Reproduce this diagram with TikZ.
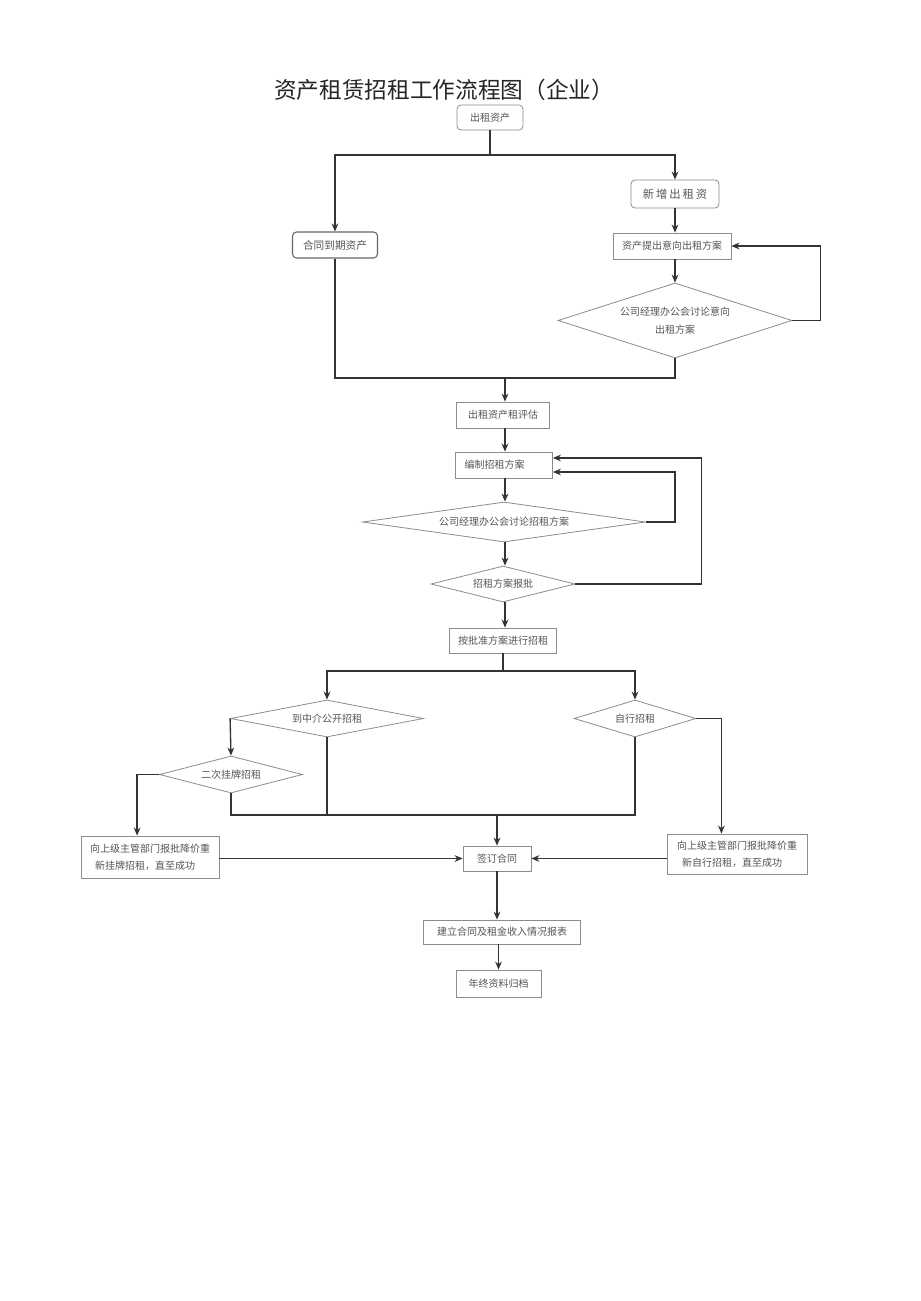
\documentclass[tikz,border=0pt]{standalone}
\usepackage{fontspec}
\setmainfont{Noto Sans CJK SC}
\newfontfamily\cjk{Noto Sans CJK SC}
\usetikzlibrary{shapes.geometric,arrows.meta,calc}
\definecolor{bordergray}{HTML}{8C8C8C}
\definecolor{textgray}{HTML}{555555}
\definecolor{linegray}{HTML}{333333}
\tikzset{
  box/.style={draw=bordergray, line width=0.6pt, text=textgray, font=\cjk\fontsize{7.5}{11}\selectfont, inner sep=0pt, align=center},
  rbox/.style={box, rounded corners=3pt},
  dia/.style={diamond, draw=bordergray, line width=0.6pt, text=textgray, font=\cjk\fontsize{7.5}{13}\selectfont, inner sep=0pt, align=center},
  conn/.style={draw=linegray, line width=1pt},
  arr/.style={conn, -{Stealth[length=6pt,width=5pt]}}
}
\begin{document}
\begin{tikzpicture}[x=0.75pt,y=-0.75pt]
\useasboundingbox (0,0) rectangle (920,1301);
\fill[white] (0,0) rectangle (920,1301);
\node[font=\cjk\fontsize{17}{20}\selectfont, text=black!85] (title) at (444,90) {资产租赁招租工作流程图（企业）};
% nodes
\node[rbox, minimum width=49.5pt, minimum height=18.75pt] (zc) at (490,117.5) {出租资产};
\node[rbox, minimum width=66pt, minimum height=21pt, font=\cjk\fontsize{8.5}{11}\selectfont] (xz) at (675,194) {新\,增\,出\,租\,资};
\node[rbox, draw=gray!80!black, line width=0.8pt, minimum width=63.75pt, minimum height=19.5pt, font=\cjk\fontsize{8}{11}\selectfont] (ht) at (335,245) {合同到期资产};
\node[box, minimum width=88.5pt, minimum height=19.5pt] (tc) at (672,246) {资产提出意向出租方案};
\node[dia, minimum width=175.5pt, minimum height=56.25pt, shape aspect=3.12] (d1) at (675,320.5) {公司经理办公会讨论意向\\出租方案};
\node[box, minimum width=69.75pt, minimum height=19.5pt] (pg) at (503,415) {出租资产租评估};
\node[box, minimum width=72.75pt, minimum height=19.5pt] (bz) at (504,465) {\hspace*{-14pt}编制招租方案};
\node[dia, minimum width=212.25pt, minimum height=30pt, shape aspect=7] (d2) at (504,522) {公司经理办公会讨论招租方案};
\node[dia, minimum width=108pt, minimum height=27pt, shape aspect=4] (d3) at (503,584) {招租方案报批};
\node[box, minimum width=80.25pt, minimum height=18.75pt] (aj) at (503,640.5) {按批准方案进行招租};
\node[dia, minimum width=144.75pt, minimum height=27.75pt, shape aspect=5.2] (d4) at (327,718.5) {到中介公开招租};
\node[dia, minimum width=91.5pt, minimum height=27.75pt, shape aspect=3.3] (d5) at (635,718.5) {自行招租};
\node[dia, minimum width=107.25pt, minimum height=27.75pt, shape aspect=3.9] (d6) at (231,774.5) {二次挂牌招租};
\node[box, minimum width=103.5pt, minimum height=31.5pt, font=\cjk\fontsize{7.5}{13}\selectfont] (b1) at (150,857) {向上级主管部门报批降价重\\新挂牌招租，直至成功\hspace*{7.5pt}};
\node[box, minimum width=51pt, minimum height=18.75pt] (qd) at (497,858.5) {签订合同};
\node[box, minimum width=105pt, minimum height=30pt, font=\cjk\fontsize{7.5}{13}\selectfont] (b2) at (737,854) {向上级主管部门报批降价重\\新自行招租，直至成功\hspace*{7.5pt}};
\node[box, minimum width=117.75pt, minimum height=18pt] (jl) at (502,932) {建立合同及租金收入情况报表};
\node[box, minimum width=63.75pt, minimum height=20.25pt] (nz) at (498.5,983.5) {年终资料归档};
% connectors
\coordinate (j1) at (490,155);
\draw[conn] (zc.south) -- (j1);
\draw[arr] (j1) -| (ht.north);
\draw[arr] (j1) -| (xz.north);
\draw[arr] (xz.south) -- (xz.south |- tc.north);
\draw[arr] (tc.south -| d1.north) -- (d1.north);
\draw[arr] (d1.east) -- ++(28,0) |- (tc.east);
\coordinate (m1) at (505,378);
\draw[conn] (ht.south) |- (m1);
\draw[conn] (d1.south) |- (m1);
\draw[arr] (m1) -- (m1 |- pg.north);
\draw[arr] (pg.south -| m1) -- (m1 |- bz.north);
\draw[arr] (bz.south -| m1) -- (m1 |- d2.north);
\draw[arr] (d2.south -| m1) -- (m1 |- d3.north);
\draw[arr] (d3.south -| m1) -- (m1 |- aj.north);
\draw[arr] (d2.east) -- ++(29,0) |- ($(bz.east)+(0,7)$);
\draw[arr] (d3.east) -- ++(126,0) |- ($(bz.east)+(0,-7)$);
\coordinate (m2) at (503,671);
\draw[conn] (aj.south) -- (m2);
\draw[arr] (m2) -| (d4.north);
\draw[arr] (m2) -| (d5.north);
\draw[arr] (d4.west) -- (d6.north);
\draw[arr] (d6.west) -- ++(-22,0) coordinate (c6) -- (c6 |- b1.north);
\coordinate (m3) at (497,815);
\draw[conn] (d6.south) |- (d5.south |- m3) -- (d5.south);
\draw[conn] (d4.south) -- (d4.south |- m3);
\draw[arr] (m3) -- (qd.north);
\draw[arr] (b1.east |- qd.west) -- (qd.west);
\draw[arr] (d5.east) -- ++(25,0) coordinate (c5) -- (c5 |- b2.north);
\draw[arr] (b2.west |- qd.east) -- (qd.east);
\draw[arr] (qd.south) -- (qd.south |- jl.north);
\draw[arr] (jl.south -| nz.north) -- (nz.north);
\end{tikzpicture}
\end{document}
